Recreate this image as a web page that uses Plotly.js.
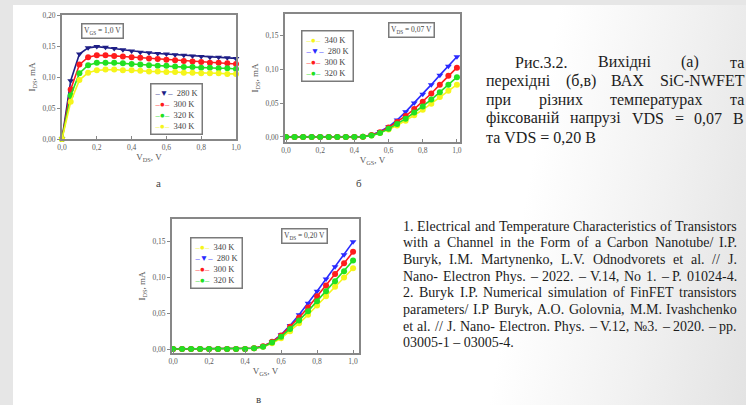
<!DOCTYPE html>
<html><head><meta charset="utf-8">
<script src="https://cdn.plot.ly/plotly-3.0.1.min.js"></script>
<style>
html,body{margin:0;padding:0;width:746px;height:405px;overflow:hidden;background:#e6e6e6;}
#bg{position:absolute;left:13px;top:5px;width:733px;height:400px;background:linear-gradient(100deg,#ffffff 0%,#ffffff 68%,#f1f1f1 85%,#e3e3e3 100%);}
#chart{position:absolute;left:0;top:0;width:746px;height:405px;}
</style></head><body><div id="bg"></div><div id="chart"></div>
<script>
// ---------- data ----------
const temps = ['280 K', '300 K', '320 K', '340 K'];
const volts = [0, 0.05, 0.1, 0.15, 0.2, 0.25, 0.3, 0.35, 0.4, 0.45, 0.5, 0.55, 0.6, 0.65, 0.7, 0.75, 0.8, 0.85, 0.9, 0.95, 1.0];

// (a) output characteristics, V_GS = 1,0 V
const outI280 = [0, 0.094, 0.137, 0.147, 0.149, 0.148, 0.146, 0.144, 0.142, 0.140, 0.139, 0.138, 0.137, 0.136, 0.135, 0.134, 0.133, 0.132, 0.132, 0.131, 0.130];
const outI300 = [0, 0.080, 0.120, 0.132, 0.135, 0.135, 0.134, 0.133, 0.132, 0.131, 0.130, 0.129, 0.128, 0.127, 0.126, 0.125, 0.124, 0.123, 0.123, 0.122, 0.121];
const outI320 = [0, 0.070, 0.106, 0.119, 0.123, 0.123, 0.123, 0.122, 0.121, 0.120, 0.119, 0.118, 0.118, 0.117, 0.116, 0.116, 0.115, 0.115, 0.114, 0.114, 0.113];
const outI340 = [0, 0.060, 0.095, 0.107, 0.111, 0.112, 0.112, 0.111, 0.111, 0.110, 0.109, 0.109, 0.108, 0.108, 0.107, 0.107, 0.106, 0.106, 0.106, 0.105, 0.105];

// (б) transfer characteristics, V_DS = 0,07 V
const trB280 = [0, 0, 0, 0, 0, 0, 0, 0, 0, 0.0005, 0.003, 0.008, 0.015, 0.025, 0.037, 0.050, 0.063, 0.077, 0.091, 0.104, 0.118];
const trB300 = [0, 0, 0, 0, 0, 0, 0, 0, 0, 0.0005, 0.003, 0.007, 0.014, 0.022, 0.031, 0.041, 0.052, 0.064, 0.077, 0.090, 0.102];
const trB320 = [0, 0, 0, 0, 0, 0, 0, 0, 0, 0.0004, 0.002, 0.006, 0.012, 0.019, 0.027, 0.036, 0.045, 0.055, 0.066, 0.077, 0.088];
const trB340 = [0, 0, 0, 0, 0, 0, 0, 0, 0, 0.0003, 0.002, 0.006, 0.011, 0.017, 0.024, 0.032, 0.040, 0.049, 0.059, 0.068, 0.077];

// (в) transfer characteristics, V_DS = 0,20 V
const trC280 = [0, 0, 0, 0, 0, 0, 0, 0, 0, 0.001, 0.004, 0.010, 0.020, 0.033, 0.048, 0.064, 0.081, 0.098, 0.115, 0.132, 0.150];
const trC300 = [0, 0, 0, 0, 0, 0, 0, 0, 0, 0.001, 0.004, 0.010, 0.019, 0.031, 0.044, 0.058, 0.074, 0.089, 0.105, 0.120, 0.136];
const trC320 = [0, 0, 0, 0, 0, 0, 0, 0, 0, 0.001, 0.003, 0.009, 0.017, 0.028, 0.040, 0.053, 0.067, 0.081, 0.095, 0.109, 0.124];
const trC340 = [0, 0, 0, 0, 0, 0, 0, 0, 0, 0.001, 0.003, 0.008, 0.015, 0.025, 0.036, 0.048, 0.061, 0.074, 0.087, 0.100, 0.113];

const xTickVals = [0, 0.2, 0.4, 0.6, 0.8, 1.0];
const xTickText = ['0,0', '0,2', '0,4', '0,6', '0,8', '1,0'];
const yTickValsA = [0, 0.05, 0.10, 0.15, 0.20];
const yTickTextA = ['0,00', '0,05', '0,10', '0,15', '0,20'];
const yTickValsBC = [0, 0.05, 0.10, 0.15];
const yTickTextBC = ['0,00', '0,05', '0,10', '0,15'];

const captionLines = [
  'Рис.3.2. Вихідні (а) та',
  'перехідні (б,в) ВАХ SiC-NWFET',
  'при різних температурах та',
  'фіксованій напрузі VDS = 0,07 В',
  'та VDS = 0,20 В'
];
const refLines = [
  '1. Electrical and Temperature Characteristics of Transistors',
  'with a Channel in the Form of a Carbon Nanotube/ I.P.',
  'Buryk, I.M. Martynenko, L.V. Odnodvorets et al. // J.',
  'Nano- Electron Phys. – 2022. – V.14, No 1. – P. 01024-4.',
  '2. Buryk I.P. Numerical simulation of FinFET transistors',
  'parameters/ I.P Buryk, A.O. Golovnia, M.M. Ivashchenko',
  'et al. // J. Nano- Electron. Phys. – V.12, №3. – 2020. – pp.',
  '03005-1 – 03005-4.'
];

// ---------- styles ----------
const W = 746, H = 405;
const px = x => x / W, py = y => 1 - y / H;
const SERIF = 'Liberation Serif';
const colA = {'280 K': '#1e1e86', '300 K': '#ff1c1c', '320 K': '#22e022', '340 K': '#f5f51a'};
const colBC = {'280 K': '#2a2aff', '300 K': '#ff1c1c', '320 K': '#22e022', '340 K': '#f5f51a'};
const sym = {'280 K': 'triangle-down', '300 K': 'circle', '320 K': 'circle', '340 K': 'circle'};
const glyph = {'280 K': '▼', '300 K': '●', '320 K': '●', '340 K': '●'};

function tr(x, y, name, cols, xa, ya) {
  return {
    type: 'scatter', mode: 'lines+markers', x: x, y: y, name: name,
    xaxis: xa, yaxis: ya, showlegend: false, cliponaxis: false,
    line: {color: cols[name], width: 1.6},
    marker: {symbol: sym[name], size: 6, color: cols[name], line: {width: 0}}
  };
}
const data = [
  tr(volts, outI280, temps[0], colA, 'x', 'y'),
  tr(volts, outI300, temps[1], colA, 'x', 'y'),
  tr(volts, outI320, temps[2], colA, 'x', 'y'),
  tr(volts, outI340, temps[3], colA, 'x', 'y'),
  tr(volts, trB340, temps[3], colBC, 'x2', 'y2'),
  tr(volts, trB280, temps[0], colBC, 'x2', 'y2'),
  tr(volts, trB300, temps[1], colBC, 'x2', 'y2'),
  tr(volts, trB320, temps[2], colBC, 'x2', 'y2'),
  tr(volts, trC340, temps[3], colBC, 'x3', 'y3'),
  tr(volts, trC280, temps[0], colBC, 'x3', 'y3'),
  tr(volts, trC300, temps[1], colBC, 'x3', 'y3'),
  tr(volts, trC320, temps[2], colBC, 'x3', 'y3')
];

const tickFont = {family: SERIF, size: 7.5, color: '#5a5a5a'};
const titleFont = {family: SERIF, size: 9, color: '#555'};
function axis(dom, range, tv, tt, title, standoff, anchor, isY) {
  return {
    domain: dom, range: range, anchor: anchor,
    showline: true, mirror: true, linecolor: '#878787', linewidth: 2,
    showgrid: false, zeroline: false,
    ticks: isY ? 'outside' : 'inside', ticklen: 3, tickcolor: '#878787', tickwidth: 1,
    tickvals: tv, ticktext: tt, tickfont: tickFont,
    title: {text: title, font: titleFont, standoff: standoff}, automargin: false
  };
}

const layout = {
  width: W, height: H, margin: {l: 0, r: 0, t: 0, b: 0},
  paper_bgcolor: 'rgba(0,0,0,0)', plot_bgcolor: '#ffffff',
  showlegend: false,
  font: {family: SERIF, size: 10, color: '#444'},
  xaxis: axis([px(62), px(236)], [0, 1], xTickVals, xTickText, 'V<sub>DS</sub>, V', 3, 'y', false),
  yaxis: axis([py(139), py(15)], [0, 0.2], yTickValsA, yTickTextA, 'I<sub>DS</sub>, mA', 5, 'x', true),
  xaxis2: axis([px(285), px(460)], [-0.006, 1.018], xTickVals, xTickText, 'V<sub>GS</sub>, V', 3, 'y2', false),
  yaxis2: axis([py(142), py(14)], [-0.0074, 0.181], yTickValsBC, yTickTextBC, 'I<sub>DS</sub>, mA', 5, 'x2', true),
  xaxis3: axis([px(172), px(359)], [-0.006, 1.033], xTickVals, xTickText, 'V<sub>GS</sub>, V', 3, 'y3', false),
  yaxis3: axis([py(353), py(219)], [-0.0056, 0.182], yTickValsBC, yTickTextBC, 'I<sub>DS</sub>, mA', 5, 'x3', true),
  annotations: []
};
const ann = layout.annotations;

// condition boxes
function condBox(text, x, y) {
  ann.push({xref: 'paper', yref: 'paper', x: px(x), y: py(y), xanchor: 'center', yanchor: 'middle',
    text: text, showarrow: false, font: {family: SERIF, size: 7.5, color: '#444'},
    bgcolor: '#ffffff', bordercolor: '#7a7a7a', borderwidth: 1.5, borderpad: 1.5});
}
condBox('V<sub>GS</sub> = 1,0 V', 102, 31.5);
condBox('V<sub>DS</sub> = 0,07 V', 411, 30);
condBox('V<sub>DS</sub> = 0,20 V', 304.5, 235.5);

// legends (text boxes built from the series names & colours)
function legendBox(order, cols, x, y) {
  const txt = order.map(t => '<span style="color:' + cols[t] + '">–' + glyph[t] + '–</span>  ' + t).join('<br>');
  ann.push({xref: 'paper', yref: 'paper', x: px(x), y: py(y), xanchor: 'left', yanchor: 'top',
    text: txt, align: 'left', showarrow: false, font: {family: SERIF, size: 8.5, color: '#444'},
    bgcolor: '#ffffff', bordercolor: '#7a7a7a', borderwidth: 1.5, borderpad: 3});
}
legendBox([temps[0], temps[1], temps[2], temps[3]], colA, 150, 83);
legendBox([temps[3], temps[0], temps[1], temps[2]], colBC, 301, 30);
legendBox([temps[3], temps[0], temps[1], temps[2]], colBC, 190, 237);

// panel letters
[['а', 158, 183], ['б', 359, 183], ['в', 258, 399]].forEach(l => {
  ann.push({xref: 'paper', yref: 'paper', x: px(l[1]), y: py(l[2]), xanchor: 'center', yanchor: 'middle',
    text: l[0], showarrow: false, font: {family: SERIF, size: 11, color: '#444'}});
});

// justified text blocks
const cv = document.createElement('canvas').getContext('2d');
function textBlock(lines, firstX, leftX, rightX, y0, dy, size) {
  cv.font = size + 'px "Liberation Serif"';
  lines.forEach((ln, i) => {
    const y = y0 + i * dy;
    const x0 = i === 0 ? firstX : leftX;
    const isLast = i === lines.length - 1;
    const words = ln.split(' ');
    if (isLast) {
      ann.push({xref: 'paper', yref: 'paper', x: px(x0), y: py(y), xanchor: 'left', yanchor: 'middle',
        text: ln, showarrow: false, borderpad: 0, borderwidth: 0,
        font: {family: SERIF, size: size, color: '#1c1c1c'}});
      return;
    }
    const ws = words.map(w => cv.measureText(w).width);
    const tot = ws.reduce((a, b) => a + b, 0);
    let gap = (rightX - x0 - tot) / Math.max(1, words.length - 1);
    if (gap < 2) gap = 2;
    let x = x0;
    words.forEach((w, k) => {
      ann.push({xref: 'paper', yref: 'paper', x: px(x), y: py(y), xanchor: 'left', yanchor: 'middle',
        text: w, showarrow: false, borderpad: 0, borderwidth: 0,
        font: {family: SERIF, size: size, color: '#1c1c1c'}});
      x += ws[k] + gap;
    });
  });
}
textBlock(captionLines, 515, 486, 744, 62, 18.8, 16);
textBlock(refLines, 403, 403, 737, 226, 16.7, 14);

Plotly.newPlot('chart', data, layout, {staticPlot: true, displayModeBar: false});
</script>
</body></html>
